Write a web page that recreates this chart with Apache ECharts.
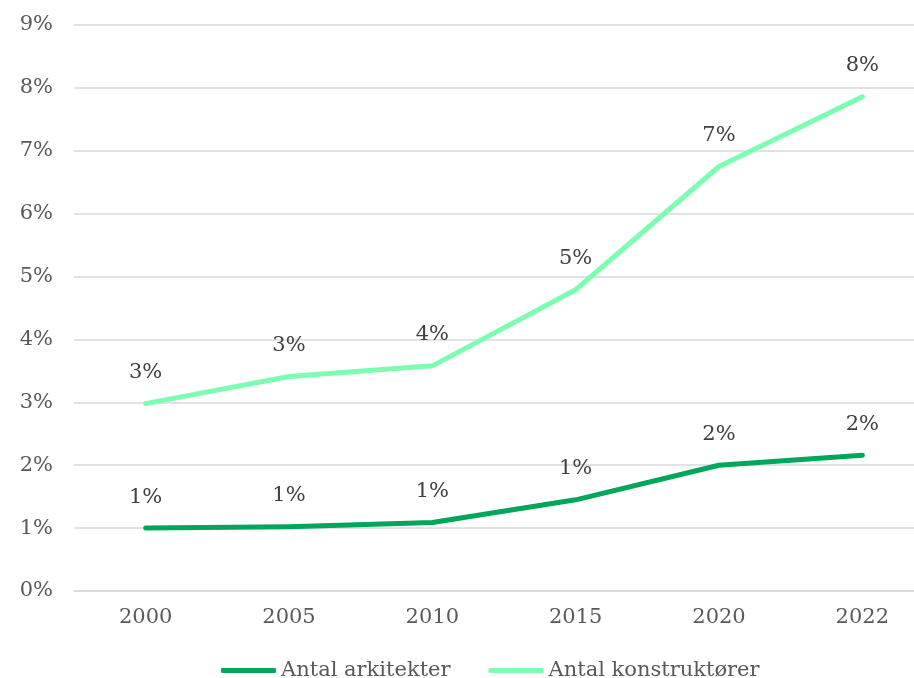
<!DOCTYPE html>
<html>
<head>
<meta charset="utf-8">
<script src="https://cdn.jsdelivr.net/npm/echarts@6/dist/echarts.min.js"></script>
<style>
html,body{margin:0;padding:0;background:#fff;}
#chart{width:914px;height:678px;}
</style>
</head>
<body>
<div id="chart"></div>
<script>
const categories = ['2000', '2005', '2010', '2015', '2020', '2022'];
const arkitekter = [0.0100, 0.0102, 0.0109, 0.0145, 0.0200, 0.0216];
const konstruktorer = [0.0298, 0.0341, 0.0358, 0.0479, 0.0675, 0.0786];
const seriesNames = ['Antal arkitekter', 'Antal konstruktører'];
const seriesColors = ['#00A65A', '#7CFDB1'];

const FONT = 'DejaVu Serif';
const pct = v => Math.round(v * 100) + '%';

const chart = echarts.init(document.getElementById('chart'));
const mkSeries = (name, data, color) => ({
  name: name,
  type: 'line',
  data: data,
  symbol: 'circle',
  symbolSize: 1,
  showSymbol: true,
  itemStyle: { color: color },
  lineStyle: { color: color, width: 5, cap: 'round', join: 'round' },
  label: {
    show: true,
    position: 'top',
    distance: 20,
    formatter: p => pct(p.value),
    fontFamily: FONT,
    fontSize: 21,
    color: '#404040'
  },
  emphasis: { disabled: true },
  animation: false
});

chart.setOption({
  backgroundColor: '#ffffff',
  animation: false,
  grid: { left: 74, top: 25, width: 860, bottom: 87, containLabel: false, outerBoundsMode: 'none' },
  xAxis: {
    type: 'category',
    data: categories,
    boundaryGap: true,
    axisLine: { show: true, lineStyle: { color: '#d9d9d9', width: 1.5 } },
    axisTick: { show: false },
    axisLabel: { fontFamily: FONT, fontSize: 21, color: '#595959', margin: 16 }
  },
  yAxis: {
    type: 'value',
    min: 0,
    max: 0.09,
    interval: 0.01,
    axisLine: { show: false },
    axisTick: { show: false },
    splitLine: { lineStyle: { color: '#d9d9d9', width: 1.5 } },
    axisLabel: { fontFamily: FONT, fontSize: 21, color: '#595959', margin: 21, formatter: pct }
  },
  legend: {
    left: 216,
    top: 655,
    itemWidth: 55,
    itemHeight: 5,
    itemGap: 38,
    icon: 'roundRect',
    textStyle: { fontFamily: FONT, fontSize: 21, color: '#595959' },
    data: seriesNames
  },
  series: [
    mkSeries(seriesNames[0], arkitekter, seriesColors[0]),
    mkSeries(seriesNames[1], konstruktorer, seriesColors[1])
  ]
});
</script>
</body>
</html>
